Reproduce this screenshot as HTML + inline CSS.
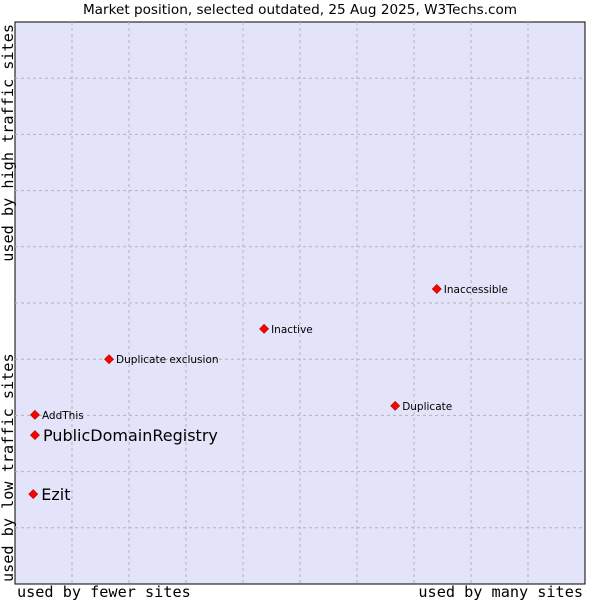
<!DOCTYPE html>
<html><head><meta charset="utf-8"><style>
body{margin:0;background:#fff;}
svg text{font-family:"DejaVu Sans","Liberation Sans",sans-serif;}
.mono{font-family:"DejaVu Sans Mono","Liberation Mono",monospace !important;}
</style></head><body>
<svg id="chart" width="600" height="600" xmlns="http://www.w3.org/2000/svg">
<text x="300" y="14" text-anchor="middle" font-size="13.6" fill="#000">Market position, selected outdated, 25 Aug 2025, W3Techs.com</text>
<rect x="15" y="22" width="570" height="562" fill="#e3e4f9" stroke="#000" stroke-width="1"/>
<g id="grid"></g>
<g id="points"></g>
<text class="mono" x="17" y="597" font-size="15.2">used by fewer sites</text>
<text class="mono" x="583" y="597" font-size="15.2" text-anchor="end">used by many sites</text>
<text class="mono" transform="translate(13,582) rotate(-90)" font-size="15.2">used by low traffic sites</text>
<text class="mono" transform="translate(13,24) rotate(-90)" font-size="15.2" text-anchor="end">used by high traffic sites</text>
</svg>
<script>
const names=["Inaccessible","Inactive","Duplicate exclusion","Duplicate","AddThis","PublicDomainRegistry","Ezit"];
const xVals=[74.0,43.7,16.5,66.7,3.5,3.5,3.2];
const yVals=[52.5,45.4,40.0,31.7,30.1,26.5,16.0];
const big=[false,false,false,false,false,true,true];
const L=15,T=22,W=570,H=562;
const sx=v=>L+v/100*W, sy=v=>T+H-v/100*H;
const ns="http://www.w3.org/2000/svg";
const grid=document.getElementById('grid');
for(let i=1;i<10;i++){
  const v=document.createElementNS(ns,'line');
  v.setAttribute('x1',sx(i*10));v.setAttribute('x2',sx(i*10));v.setAttribute('y1',T);v.setAttribute('y2',T+H);
  v.setAttribute('stroke','#b4b4b4');v.setAttribute('stroke-dasharray','3,3');
  
  
  grid.appendChild(v);
  const h=document.createElementNS(ns,'line');
  h.setAttribute('y1',sy(i*10));h.setAttribute('y2',sy(i*10));h.setAttribute('x1',L);h.setAttribute('x2',L+W);
  h.setAttribute('stroke','#b4b4b4');h.setAttribute('stroke-dasharray','3,3');
  
  
  grid.appendChild(h);
}
const pts=document.getElementById('points');
names.forEach((n,i)=>{
  const x=sx(xVals[i]),y=sy(yVals[i]);
  const d=document.createElementNS(ns,'path');
  d.setAttribute('d',`M${x},${y-4.5}L${x+4.5},${y}L${x},${y+4.5}L${x-4.5},${y}Z`);
  d.setAttribute('fill','#ff0000');d.setAttribute('stroke','#b00000');d.setAttribute('stroke-width','0.6');
  
  
  pts.appendChild(d);
  const t=document.createElementNS(ns,'text');
  t.setAttribute('x',x+(big[i]?8:7));t.setAttribute('y',y+(big[i]?6:4));
  t.setAttribute('font-size',big[i]?'16':'10.5');
  t.textContent=n;
  
  
  pts.appendChild(t);
});
</script>
</body></html>
